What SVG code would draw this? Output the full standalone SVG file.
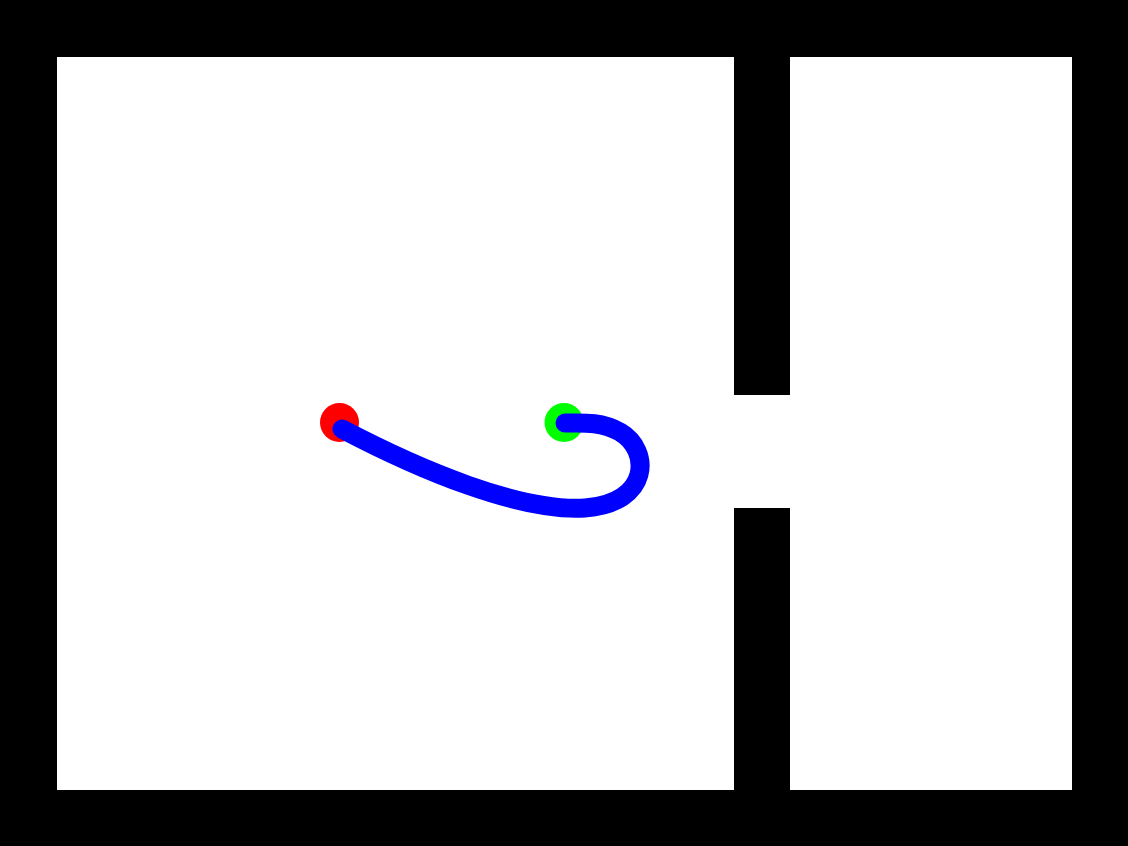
<svg xmlns="http://www.w3.org/2000/svg" width="1128" height="846" viewBox="0 0 1128 846">
<rect x="0" y="0" width="1128" height="846" fill="#000"/>
<rect x="57" y="57" width="677" height="733" fill="#fff"/>
<rect x="790" y="57" width="282" height="733" fill="#fff"/>
<rect x="734" y="395" width="56" height="113" fill="#fff"/>
<circle id="start" cx="339.5" cy="422.5" r="19.5" fill="#f00"/>
<circle id="goal" cx="564" cy="422.5" r="19.5" fill="#0f0"/>
<path id="trajectory" d="M342,429 C420,470 520,512 585,508 C651,503 651,450 620,432 C600,421 580,423 565,423" fill="none" stroke="#00f" stroke-width="19" stroke-linecap="round"/>
</svg>
